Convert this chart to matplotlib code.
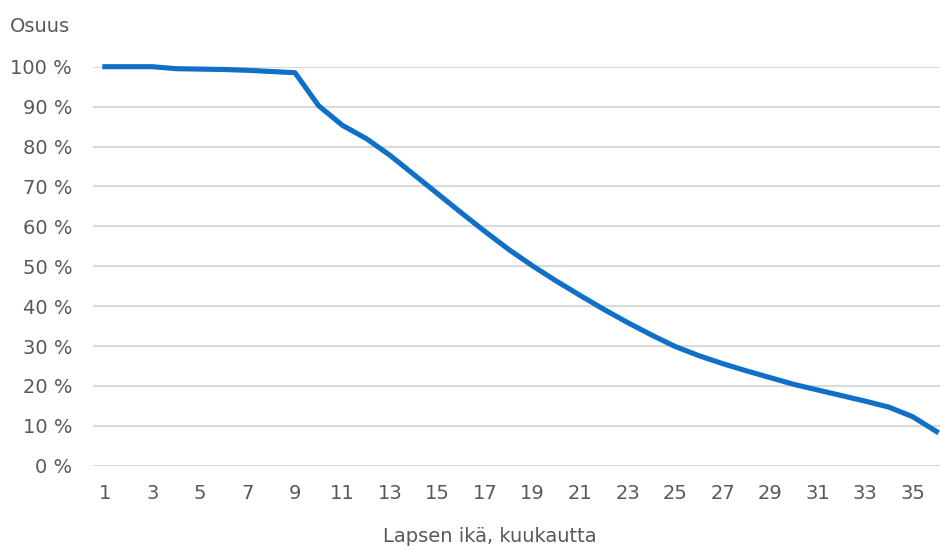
import matplotlib
matplotlib.use("Agg")
import matplotlib.pyplot as plt

months = list(range(1, 37))
share = [100, 100, 100, 99.5, 99.4, 99.3, 99.1, 98.8, 98.5, 90.2,
         85.3, 82.0, 77.8, 73.0, 68.2, 63.4, 58.7, 54.2, 50.1, 46.3,
         42.7, 39.2, 35.9, 32.8, 29.9, 27.6, 25.6, 23.8, 22.1, 20.4,
         19.0, 17.6, 16.2, 14.7, 12.3, 8.6]
y_ticks = list(range(0, 101, 10))
y_labels = [f"{v} %" for v in y_ticks]
x_ticks = list(range(1, 37, 2))

plt.rcParams['font.family'] = ['DejaVu Sans']
txt = '#595959'
fs = 14

fig = plt.figure(figsize=(9.4, 5.5), dpi=100)
ax = fig.add_axes([93/940, 1-465.8/550, 1-93/940, (465.8-66.7)/550])
ax.plot(months, share, color='#1070c8', lw=3.7, clip_on=False, solid_joinstyle='round', zorder=3)
ax.set_xlim(0.5, 36.15)
ax.set_ylim(0, 100)
ax.set_yticks(y_ticks)
ax.set_yticklabels(y_labels)
ax.set_xticks(x_ticks)
ax.set_xticklabels([str(v) for v in x_ticks])
ax.grid(axis='y', color='#d9d9d9', lw=1.5)
ax.set_axisbelow(True)
for s in ax.spines.values():
    s.set_visible(False)
ax.tick_params(length=0, labelsize=fs, colors=txt)
ax.tick_params(axis='x', pad=13)
ax.tick_params(axis='y', pad=15)
fig.text(10/940, 1-26/550, 'Osuus', fontsize=fs, color=txt, va='center', ha='left')
fig.text(490/940, 1-537/550, 'Lapsen ikä, kuukautta', fontsize=fs, color=txt, va='center', ha='center')
fig.savefig('out.png', dpi=100)
